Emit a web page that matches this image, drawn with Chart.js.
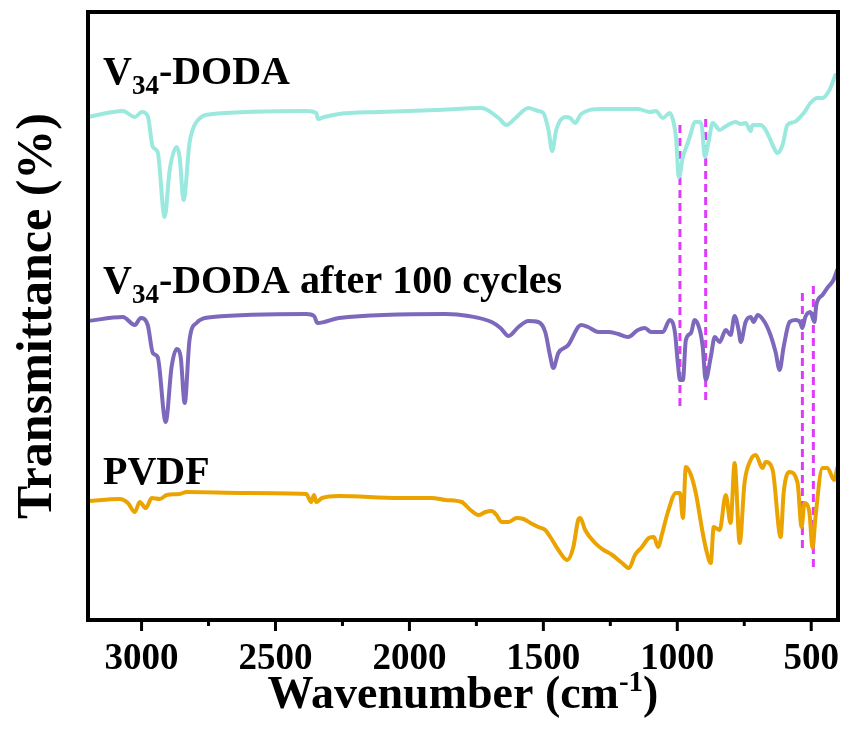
<!DOCTYPE html>
<html lang="en">
  <head>
    <meta charset="UTF-8" />
    <title>FTIR spectra</title>
    <style>
      body { margin: 0; background: #fff; }
      #ftir { display: block; }
    </style>
    <script src="https://cdn.jsdelivr.net/npm/chart.js"></script>
  </head>
  <body>
    <canvas id="ftir" width="846" height="756"></canvas>
    <script>
      // spectra: wavenumber (cm-1) and offset transmittance (a.u.)
      const dodaWn = [3200, 3070, 3025, 2999, 2977, 2958, 2940, 2914, 2895, 2869, 2858, 2843, 2821, 2795, 2735, 2385, 2348, 2341, 2318, 2263, 2114, 1902, 1731, 1667, 1638, 1604, 1556, 1519, 1500, 1481, 1467, 1452, 1418, 1400, 1381, 1359, 1284, 1221, 1147, 1102, 1080, 1054, 1028, 1016, 1005, 994, 979, 961, 949, 935, 916, 908, 897, 882, 868, 841, 823, 782, 763, 745, 726, 719, 689, 670, 644, 626, 607, 589, 563, 525, 503, 477, 458, 432, 410];
      const dodaT = [50.3, 50.9, 50.3, 50.8, 50.4, 47.3, 46.8, 40.3, 45.0, 47.3, 46.3, 42.0, 47.7, 49.8, 50.6, 50.9, 50.7, 50.1, 50.3, 50.6, 50.8, 51.0, 51.2, 50.2, 49.5, 50.2, 51.2, 50.9, 50.7, 49.0, 46.9, 49.0, 50.3, 50.2, 49.7, 50.6, 51.1, 51.1, 51.1, 50.8, 50.9, 50.2, 50.7, 50.0, 48.3, 44.3, 46.3, 47.7, 48.7, 49.8, 49.8, 49.3, 46.3, 48.0, 49.7, 49.0, 49.3, 49.8, 49.6, 49.7, 48.9, 49.5, 49.5, 49.0, 47.5, 46.7, 47.5, 49.5, 49.8, 50.8, 51.7, 52.2, 52.2, 53.0, 54.5];

      const cycledWn = [3200, 3070, 3025, 3003, 2977, 2958, 2940, 2910, 2888, 2869, 2854, 2839, 2821, 2795, 2735, 2385, 2356, 2344, 2318, 2263, 1865, 1779, 1693, 1660, 1630, 1593, 1556, 1519, 1493, 1474, 1463, 1444, 1407, 1370, 1359, 1333, 1295, 1258, 1221, 1184, 1147, 1121, 1098, 1054, 1028, 1009, 998, 990, 979, 968, 949, 935, 916, 905, 894, 875, 860, 842, 819, 801, 786, 771, 763, 745, 726, 715, 700, 674, 652, 633, 618, 603, 581, 559, 542, 533, 522, 503, 488, 481, 458, 440, 417, 403];
      const cycledT = [29.9, 30.3, 29.5, 30.2, 29.5, 26.7, 26.3, 19.8, 25.3, 27.1, 26.3, 21.7, 28.0, 29.7, 30.3, 30.6, 30.4, 29.7, 29.8, 30.2, 30.6, 30.4, 29.8, 29.2, 28.4, 29.3, 29.9, 29.8, 28.8, 26.3, 25.2, 26.7, 27.5, 29.3, 29.5, 29.3, 28.8, 28.8, 28.6, 28.3, 29.0, 29.2, 28.8, 28.8, 30.0, 28.8, 25.7, 24.0, 24.0, 28.0, 28.7, 30.0, 29.0, 27.3, 24.0, 26.3, 28.3, 27.8, 29.0, 28.5, 30.4, 29.0, 27.8, 29.8, 30.3, 29.8, 30.5, 29.8, 28.5, 26.8, 25.0, 27.3, 29.8, 30.0, 29.8, 29.2, 30.3, 30.8, 29.8, 31.5, 32.5, 33.2, 34.0, 35.0];

      const pvdfWn = [3200, 3081, 3051, 3025, 3007, 2984, 2962, 2932, 2906, 2858, 2832, 2609, 2385, 2367, 2356, 2348, 2326, 2263, 2039, 1917, 1865, 1805, 1772, 1742, 1716, 1693, 1675, 1656, 1630, 1600, 1574, 1548, 1519, 1493, 1474, 1444, 1411, 1388, 1370, 1362, 1344, 1307, 1280, 1243, 1206, 1180, 1158, 1132, 1106, 1087, 1072, 1057, 1035, 1005, 990, 979, 968, 949, 931, 905, 890, 875, 864, 842, 819, 801, 786, 767, 749, 726, 707, 682, 670, 644, 614, 603, 581, 551, 536, 525, 507, 495, 484, 458, 440, 414, 403];
      const pvdfT = [11.9, 12.1, 11.7, 10.8, 11.8, 11.2, 12.2, 12.1, 12.5, 12.6, 12.8, 12.7, 12.6, 11.8, 12.5, 11.8, 12.2, 12.4, 12.2, 12.2, 12.0, 11.8, 11.0, 10.5, 10.8, 10.9, 10.5, 9.8, 9.8, 10.2, 10.1, 9.7, 9.3, 9.0, 8.3, 7.0, 6.0, 7.3, 10.0, 10.2, 9.0, 7.7, 7.1, 6.5, 5.7, 5.2, 6.5, 7.3, 8.2, 8.3, 7.3, 8.6, 10.8, 12.7, 12.7, 10.2, 15.3, 14.5, 12.7, 8.7, 6.8, 5.7, 9.3, 9.0, 12.5, 9.7, 15.7, 7.7, 13.7, 16.0, 16.5, 15.2, 15.8, 15.0, 8.3, 12.7, 14.8, 13.7, 9.3, 11.7, 10.8, 7.2, 10.3, 15.2, 15.2, 14.0, 15.2];

      // dashed guide lines through the shared bands
      const markerWn = [990, 894, 533, 492];
      const markerTop = [49.5, 50.1, 32.7, 33.4];
      const markerBottom = [21.0, 21.5, 7.0, 4.8];

      const xTicks = [3000, 2750, 2500, 2250, 2000, 1750, 1500, 1250, 1000, 750, 500];

      const FONT = "'Liberation Serif', 'Times New Roman', serif";

      function pairs(wn, t) {
        return wn.map((x, i) => ({ x: x, y: t[i] }));
      }

      function spectrum(wn, t, color) {
        return {
          data: pairs(wn, t),
          borderColor: color,
          borderWidth: 4,
          pointRadius: 0,
          cubicInterpolationMode: "monotone",
          borderJoinStyle: "round",
          borderCapStyle: "round",
        };
      }

      const datasets = [
        spectrum(dodaWn, dodaT, "#9BE8DF"),
        spectrum(cycledWn, cycledT, "#7D68BC"),
        spectrum(pvdfWn, pvdfT, "#EBA300"),
      ];
      markerWn.forEach((w, i) => {
        datasets.push({
          data: [{ x: w, y: markerTop[i] }, { x: w, y: markerBottom[i] }],
          borderColor: "#DE3BFB",
          borderWidth: 3,
          borderDash: [8, 5],
          pointRadius: 0,
        });
      });

      // series names, V with subscript 34
      function labelWithSub(ctx, x, y, parts) {
        let cx = x;
        parts.forEach((p) => {
          ctx.font = "bold " + (p.sub ? 27 : 40) + "px " + FONT;
          ctx.fillText(p.text, cx, p.sub ? y + 10 : y);
          cx += ctx.measureText(p.text).width;
        });
      }

      const decor = {
        id: "decor",
        afterDatasetsDraw(chart) {
          const ctx = chart.ctx;
          const a = chart.chartArea;
          const xs = chart.scales.x;
          ctx.save();
          ctx.fillStyle = "#000";
          ctx.strokeStyle = "#000";
          ctx.textBaseline = "alphabetic";
          ctx.textAlign = "left";

          labelWithSub(ctx, 103, 84, [{ text: "V" }, { text: "34", sub: true }, { text: "-DODA" }]);
          labelWithSub(ctx, 103, 293, [{ text: "V" }, { text: "34", sub: true }, { text: "-DODA after 100 cycles" }]);
          labelWithSub(ctx, 103, 484, [{ text: "PVDF" }]);

          // frame
          ctx.lineWidth = 4;
          ctx.strokeRect(a.left, a.top, a.right - a.left, a.bottom - a.top);

          // outward tick marks, short ones between labels
          ctx.lineWidth = 3;
          xTicks.forEach((v) => {
            const px = xs.getPixelForValue(v);
            const len = v % 500 === 0 ? 11 : 6;
            ctx.beginPath();
            ctx.moveTo(px, a.bottom);
            ctx.lineTo(px, a.bottom + len);
            ctx.stroke();
          });

          // x title with superscript
          const main = "Wavenumber (cm";
          const sup = "-1";
          const close = ")";
          ctx.font = "bold 46px " + FONT;
          const w1 = ctx.measureText(main).width;
          const w3 = ctx.measureText(close).width;
          ctx.font = "bold 29px " + FONT;
          const w2 = ctx.measureText(sup).width;
          let tx = (a.left + a.right) / 2 - (w1 + w2 + w3) / 2;
          const ty = 708;
          ctx.font = "bold 46px " + FONT;
          ctx.fillText(main, tx, ty);
          tx += w1;
          ctx.font = "bold 29px " + FONT;
          ctx.fillText(sup, tx, ty - 17);
          tx += w2;
          ctx.font = "bold 46px " + FONT;
          ctx.fillText(close, tx, ty);

          // y title
          ctx.translate(51, (a.top + a.bottom) / 2);
          ctx.rotate(-Math.PI / 2);
          ctx.textAlign = "center";
          ctx.font = "bold 50px " + FONT;
          ctx.fillText("Transmittance (%)", 0, 0);
          ctx.restore();
        },
      };

      new Chart(document.getElementById("ftir"), {
        type: "line",
        data: { datasets: datasets },
        options: {
          responsive: false,
          animation: false,
          devicePixelRatio: 1,
          layout: { padding: { left: 88, right: 8, top: 12, bottom: 0 } },
          plugins: { legend: { display: false }, tooltip: { enabled: false } },
          scales: {
            x: {
              type: "linear",
              reverse: true,
              min: 400,
              max: 3200,
              afterBuildTicks(scale) {
                scale.ticks = xTicks.map((v) => ({ value: v }));
              },
              afterFit(scale) {
                scale.height = 136;
                scale.paddingLeft = 0;
                scale.paddingRight = 0;
              },
              grid: { display: false, drawTicks: false },
              border: { display: false },
              ticks: {
                autoSkip: false,
                maxRotation: 0,
                padding: 17,
                color: "#000",
                font: { family: FONT, weight: "bold", size: 37 },
                callback: (v) => (v % 500 === 0 ? String(v) : ""),
              },
            },
            y: {
              display: false,
              min: 0,
              max: 60.8,
            },
          },
        },
        plugins: [decor],
      });
    </script>
  </body>
</html>
